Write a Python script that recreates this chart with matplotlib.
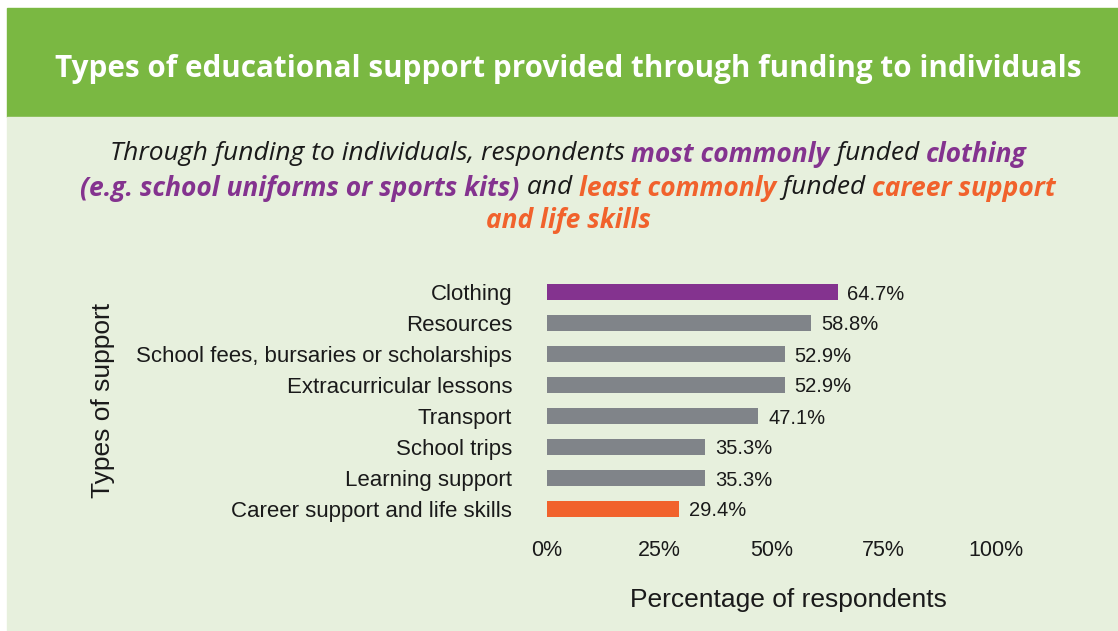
"""Horizontal bar chart: types of educational support funded for individuals."""

import matplotlib

matplotlib.use("Agg")
import matplotlib.pyplot as plt
from matplotlib.patches import Rectangle

# Data
categories = [
    "Clothing",
    "Resources",
    "School fees, bursaries or scholarships",
    "Extracurricular lessons",
    "Transport",
    "School trips",
    "Learning support",
    "Career support and life skills",
]
percentages = [64.7, 58.8, 52.9, 52.9, 47.1, 35.3, 35.3, 29.4]
x_ticks = [0, 25, 50, 75, 100]
x_tick_labels = ["0%", "25%", "50%", "75%", "100%"]

# Palette
HEADER_GREEN = "#7AB842"
PANEL_GREEN = "#E7F0DD"
PURPLE = "#84338F"
ORANGE = "#F1622C"
GREY = "#808489"
INK = "#1A1A1A"

W, H = 1118, 631
fig = plt.figure(figsize=(W / 100, H / 100), dpi=100)
fig.patch.set_facecolor("white")


def px(x, y):
    """Pixel position (top-left origin) -> figure fraction."""
    return x / W, 1 - y / H


# Header band and body panel, kept behind the axes
fig.patches.append(Rectangle(px(7, 117), (W - 7) / W, (117 - 8) / H,
                             transform=fig.transFigure, color=HEADER_GREEN, zorder=-10))
fig.patches.append(Rectangle(px(7, H), (W - 7) / W, (H - 117) / H,
                             transform=fig.transFigure, color=PANEL_GREEN, zorder=-10))

fig.text(*px(568, 66), "Types of educational support provided through funding to individuals",
         color="white", fontsize=21.3, fontweight="bold", family="Open Sans",
         ha="center", va="center_baseline")

# Subtitle with coloured highlights, laid out segment by segment
subtitle_lines = [
    (151, [("Through funding to individuals, respondents ", "normal", INK),
           ("most commonly", "bold", PURPLE),
           (" funded ", "normal", INK),
           ("clothing", "bold", PURPLE)]),
    (185, [("(e.g. school uniforms or sports kits)", "bold", PURPLE),
           (" and ", "normal", INK),
           ("least commonly", "bold", ORANGE),
           (" funded ", "normal", INK),
           ("career support", "bold", ORANGE)]),
    (218, [("and life skills", "bold", ORANGE)]),
]

renderer = fig.canvas.get_renderer()
for y_pix, segments in subtitle_lines:
    texts = []
    for s, weight, color in segments:
        t = fig.text(0, 1 - y_pix / H, s, fontsize=19, style="italic",
                     fontweight=weight, color=color, family="Open Sans",
                     ha="left", va="center_baseline")
        texts.append(t)
    widths = [t.get_window_extent(renderer).width for t in texts]
    x = 568 - sum(widths) / 2
    for t, w in zip(texts, widths):
        t.set_x(x / W)
        x += w

# Bar chart
ax = fig.add_axes([547 / W, 1 - 524.5 / H, 449 / W, 248 / H])
ax.set_facecolor("none")
bar_colors = [GREY] * len(categories)
bar_colors[0] = PURPLE
bar_colors[-1] = ORANGE
y_pos = list(range(len(categories)))
ax.barh(y_pos, percentages, height=0.52, color=bar_colors)
for y, v in zip(y_pos, percentages):
    ax.text(v + 2.2, y, f"{v:.1f}%", va="center_baseline", ha="left",
            fontsize=14.5, color=INK, family="Liberation Sans")

ax.set_xlim(0, 100)
ax.set_ylim(len(categories) - 0.5, -0.5)
ax.set_yticks(y_pos)
ax.set_yticklabels(categories, fontsize=16, color=INK, family="Liberation Sans")
ax.set_xticks(x_ticks)
ax.set_xticklabels(x_tick_labels, fontsize=15.5, color=INK, family="Liberation Sans")
ax.tick_params(axis="y", length=0, pad=25)
ax.tick_params(axis="x", length=0, pad=11)
for spine in ax.spines.values():
    spine.set_visible(False)

fig.text(*px(788, 600), "Percentage of respondents", fontsize=19, color=INK,
         family="Liberation Sans", ha="center", va="center")
fig.text(*px(103, 400), "Types of support", fontsize=19, color=INK,
         family="Liberation Sans", rotation=90, ha="center", va="center")

fig.savefig("out.png", dpi=100, facecolor=fig.get_facecolor())
